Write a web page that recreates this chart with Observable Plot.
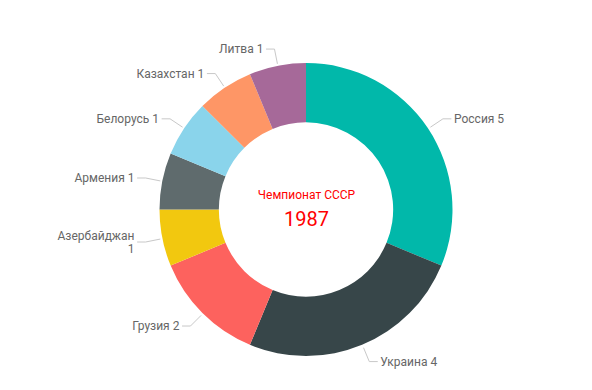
<!DOCTYPE html>
<html><head><meta charset="utf-8">
<script src="https://cdn.jsdelivr.net/npm/d3@7"></script>
<script src="https://cdn.jsdelivr.net/npm/@observablehq/plot@0.6"></script>
<style>body{margin:0;background:#fff;font-family:Roboto,sans-serif;}</style>
</head><body><div id="chart"></div>
<script>
const countries = ["Россия","Украина","Грузия","Азербайджан","Армения","Белорусь","Казахстан","Литва"];
const wins = [5,4,2,1,1,1,1,1];
const colors = ["#01B8AA","#374649","#FD625E","#F2C80F","#5F6B6D","#8AD4EB","#FE9666","#A66999"];
const wrapLabel = [false,false,false,true,false,false,false,false];
const centerTitle = "Чемпионат СССР";
const centerYear = "1987";

const data = countries.map((c, i) => ({country: c, value: wins[i], wrap: wrapLabel[i]}));
const pie = d3.pie().sort(null).value(d => d.value)(data);
const innerFrac = 0.595;
const startR = 1.02, elbowR = 1.12, seg = 0.055;

const labels = pie.map(p => {
  const a = (p.startAngle + p.endAngle) / 2;
  const side = Math.sin(a) >= 0 ? 1 : -1;
  const ex = elbowR * Math.sin(a), ey = elbowR * Math.cos(a);
  return {
    country: p.data.country,
    text: p.data.country + (p.data.wrap ? "\n" : " ") + p.data.value,
    side,
    pts: [[startR * Math.sin(a), startR * Math.cos(a)], [ex, ey], [ex + side * seg, ey]],
    tx: ex + side * seg, ty: ey
  };
});
const leaders = labels.flatMap(l => l.pts.map(p => ({country: l.country, x: p[0], y: p[1]})));

const chart = Plot.plot({
  width: 592, height: 390,
  marginLeft: 159.5, marginRight: 139.5, marginTop: 63, marginBottom: 34,
  x: {domain: [-1, 1], axis: null},
  y: {domain: [-1, 1], axis: null},
  color: {domain: countries, range: colors},
  style: {fontFamily: "Roboto, sans-serif", background: "#fff"},
  marks: [
    Plot.dot(pie, {
      x: () => 0, y: () => 0, fill: d => d.data.country,
      render(index, scales, values, dimensions, context) {
        const cx = scales.x(0), cy = scales.y(0);
        const R = scales.x(1) - cx;
        const arc = d3.arc().innerRadius(R * innerFrac).outerRadius(R);
        const g = d3.create("svg:g").attr("transform", `translate(${cx},${cy})`);
        g.selectAll("path").data(index).join("path")
          .attr("d", i => arc(pie[i]))
          .attr("fill", i => values.fill[i]);
        return g.node();
      }
    }),
    Plot.line(leaders, {x: "x", y: "y", z: "country", stroke: "#c8c8c8", strokeWidth: 1}),
    Plot.text(labels.filter(l => l.side > 0), {x: "tx", y: "ty", text: "text", textAnchor: "start", dx: 3, fill: "#666", fontSize: 12, lineHeight: 1.15}),
    Plot.text(labels.filter(l => l.side < 0), {x: "tx", y: "ty", text: "text", textAnchor: "end", dx: -3, fill: "#666", fontSize: 12, lineHeight: 1.15}),
    Plot.text([centerTitle], {x: () => 0, y: () => 0, text: d => d, dy: -14.5, fill: "#ff0000", fontSize: 12}),
    Plot.text([centerYear], {x: () => 0, y: () => 0, text: d => d, dy: 9.5, fill: "#ff0000", fontSize: 20})
  ]
});
document.getElementById("chart").appendChild(chart);
</script></body></html>
